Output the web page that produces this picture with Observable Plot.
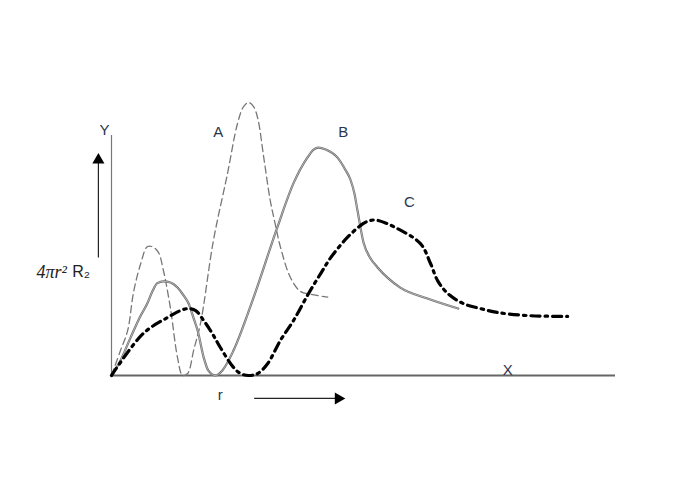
<!DOCTYPE html>
<html><head><meta charset="utf-8">
<script src="https://cdn.jsdelivr.net/npm/d3@7"></script>
<script src="https://cdn.jsdelivr.net/npm/@observablehq/plot@0.6"></script>
<style>body{margin:0;background:#fff}</style>
</head><body><div id="chart"></div>
<script>
// r (arbitrary units) and radial probability (relative)
const curveA_r = [0,0.18,0.32,0.44,0.58,0.71,0.81,0.93,1.03,1.17,1.31,1.41,1.51,1.63,1.77,2.02,2.30,2.50,2.62,2.72,2.82,2.90,3.02,3.15,3.25,3.35,3.55,3.75,3.95,4.29];
const curveA_p = [0,0.09,0.16,0.30,0.40,0.46,0.46,0.44,0.375,0.24,0.064,0,0.007,0.09,0.19,0.48,0.72,0.90,0.96,0.975,0.96,0.92,0.78,0.625,0.54,0.46,0.35,0.30,0.29,0.28];
const curveB_r = [0,0.18,0.38,0.58,0.71,0.81,0.91,1.03,1.17,1.31,1.43,1.53,1.63,1.71,1.83,1.92,2.06,2.20,2.42,2.82,3.29,3.61,3.89,4.01,4.11,4.25,4.48,4.64,4.74,4.82,4.88,5.00,5.14,5.28,5.73,6.27,6.88];
const curveB_p = [0,0.054,0.136,0.214,0.257,0.30,0.33,0.336,0.332,0.314,0.286,0.257,0.204,0.16,0.064,0.018,0,0.018,0.089,0.279,0.529,0.686,0.779,0.807,0.814,0.807,0.779,0.735,0.70,0.65,0.59,0.475,0.418,0.386,0.314,0.275,0.239];
const curveC_r = [0,0.63,1.11,1.37,1.53,1.67,1.83,2.00,2.16,2.42,2.56,2.72,2.90,3.10,3.35,3.61,3.91,4.15,4.35,4.68,5.00,5.14,5.28,5.67,6.13,6.33,6.47,6.67,6.98,7.32,7.66,8.25,9.05];
const curveC_p = [0,0.15,0.207,0.232,0.239,0.232,0.196,0.15,0.10,0.029,0.007,0,0.007,0.043,0.125,0.196,0.293,0.364,0.421,0.493,0.543,0.554,0.554,0.525,0.471,0.40,0.339,0.293,0.257,0.239,0.225,0.214,0.211];

const labels = ["Y","A","B","C","X","r"];
const labelR = [-0.14,2.12,4.60,5.91,7.86,2.16];
const labelP = [0.875,0.868,0.868,0.618,0.018,-0.071];

const toPts = (rs, ps) => rs.map((r,i) => ({r, p: ps[i]}));
const A = toPts(curveA_r, curveA_p);
const B = toPts(curveB_r, curveB_p);
const C = toPts(curveC_r, curveC_p);
const lab = labels.map((t,i)=>({t, r: labelR[i], p: labelP[i]}));

const chart = Plot.plot({
  width: 698, height: 491,
  marginLeft: 111, marginRight: 83, marginTop: 95, marginBottom: 116,
  x: {domain: [0, 10], axis: null},
  y: {domain: [0, 1], axis: null},
  style: {background: "#fff"},
  marks: [
    // axes
    Plot.ruleY([0], {x1: 0, x2: 10, stroke: "#666", strokeWidth: 2}),
    Plot.ruleX([0], {y1: 0, y2: 0.857, stroke: "#777", strokeWidth: 1.2}),
    // arrows
    Plot.ruleX([-0.26], {y1: 0.42, y2: 0.77, stroke: "#222", strokeWidth: 1.2}),
    Plot.dot([{r: -0.26, p: 0.77}], {x: "r", y: "p", symbol: "triangle", r: 4.5, fill: "#000", stroke: "none"}),
    Plot.ruleY([-0.082], {x1: 2.84, x2: 4.50, stroke: "#222", strokeWidth: 1.2}),
    Plot.dot([{r: 4.50, p: -0.082}], {x: "r", y: "p", symbol: "triangle", r: 4.5, rotate: 90, fill: "#000", stroke: "none"}),
    // curves
    Plot.line(A, {x: "r", y: "p", curve: "catmull-rom", stroke: "#777", strokeWidth: 1.3, strokeDasharray: "7,4"}),
    Plot.line(B, {x: "r", y: "p", curve: "monotone-x", stroke: "#6a6a6a", strokeWidth: 2.2}),
    Plot.line(B, {x: "r", y: "p", curve: "monotone-x", stroke: "#e8e8e8", strokeWidth: 0.6}),
    Plot.line(C, {x: "r", y: "p", curve: "catmull-rom", stroke: "#000", strokeWidth: 3.2, strokeDasharray: "9,5,2.5,5"}),
    // labels
    Plot.text(lab, {x: "r", y: "p", text: "t", fontSize: 15, fill: "#2a3550", fontFamily: "Liberation Sans"}),
    Plot.text([{r: -1.49, p: 0.37}], {x: "r", y: "p", text: () => "4πr²", textAnchor: "start", fontSize: 18, fill: "#222", fontFamily: "Liberation Serif", fontStyle: "italic"}),
    Plot.text([{r: -0.78, p: 0.37}], {x: "r", y: "p", text: () => "R₂", textAnchor: "start", fontSize: 16, fill: "#222", fontFamily: "Liberation Sans"})
  ]
});
document.getElementById("chart").appendChild(chart);
</script>
</body></html>
